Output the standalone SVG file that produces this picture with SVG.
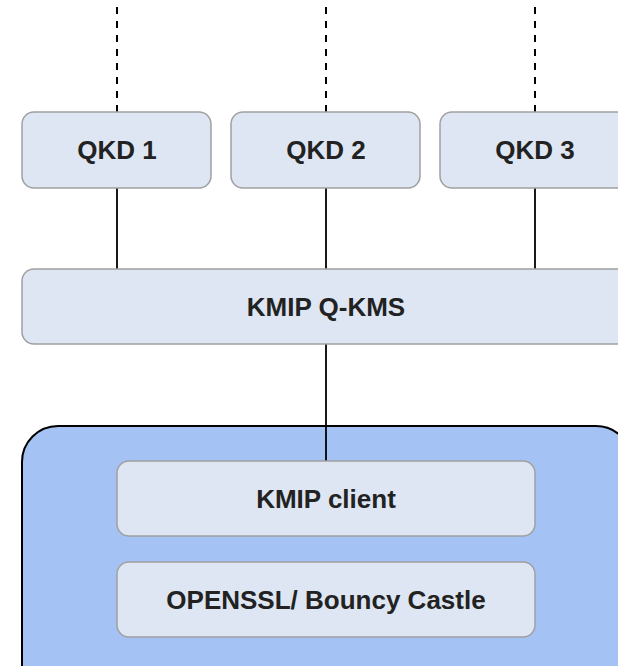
<svg xmlns="http://www.w3.org/2000/svg" width="618" height="666" viewBox="0 0 618 666">
  <style>
    .box { fill: #dde6f2; stroke: #a0a0a0; stroke-width: 1.5; }
    .host { fill: #a4c2f4; stroke: #000000; stroke-width: 2; }
    .label { font-family: "Liberation Sans", Arial, sans-serif; font-weight: bold; font-size: 26px; fill: #222222; text-anchor: middle; }
    .link { stroke: #000000; stroke-width: 1.8; fill: none; }
    .dashed { stroke-width: 2; stroke-dasharray: 7 7; stroke-dashoffset: 7; }
  </style>
  <rect width="618" height="666" fill="#ffffff"/>

  <!-- client host container -->
  <g id="host">
    <rect class="host" x="22" y="426" width="610" height="280" rx="36" ry="36"/>
  </g>

  <g id="connectors">
    <line class="link dashed" x1="117" y1="0" x2="117" y2="112"/>
    <line class="link dashed" x1="326" y1="0" x2="326" y2="112"/>
    <line class="link dashed" x1="535" y1="0" x2="535" y2="112"/>
    <line class="link" x1="117" y1="188" x2="117" y2="269"/>
    <line class="link" x1="326" y1="188" x2="326" y2="269"/>
    <line class="link" x1="535" y1="188" x2="535" y2="269"/>
    <line class="link" x1="326" y1="344" x2="326" y2="461"/>
  </g>

  <g id="qkd1">
    <rect class="box" x="22" y="112" width="189" height="76" rx="12" ry="12"/>
    <text class="label" x="117" y="159">QKD 1</text>
  </g>
  <g id="qkd2">
    <rect class="box" x="231" y="112" width="189" height="76" rx="12" ry="12"/>
    <text class="label" x="326" y="159">QKD 2</text>
  </g>
  <g id="qkd3">
    <rect class="box" x="440" y="112" width="189" height="76" rx="12" ry="12"/>
    <text class="label" x="535" y="159">QKD 3</text>
  </g>

  <g id="kms">
    <rect class="box" x="22" y="269" width="607" height="75" rx="12" ry="12"/>
    <text class="label" x="326" y="316">KMIP Q-KMS</text>
  </g>

  <g id="kmip-client">
    <rect class="box" x="117" y="461" width="418" height="75" rx="12" ry="12"/>
    <text class="label" x="326" y="508">KMIP client</text>
  </g>

  <g id="crypto-lib">
    <rect class="box" x="117" y="562" width="418" height="75" rx="12" ry="12"/>
    <text class="label" x="326" y="609">OPENSSL/ Bouncy Castle</text>
  </g>
</svg>
